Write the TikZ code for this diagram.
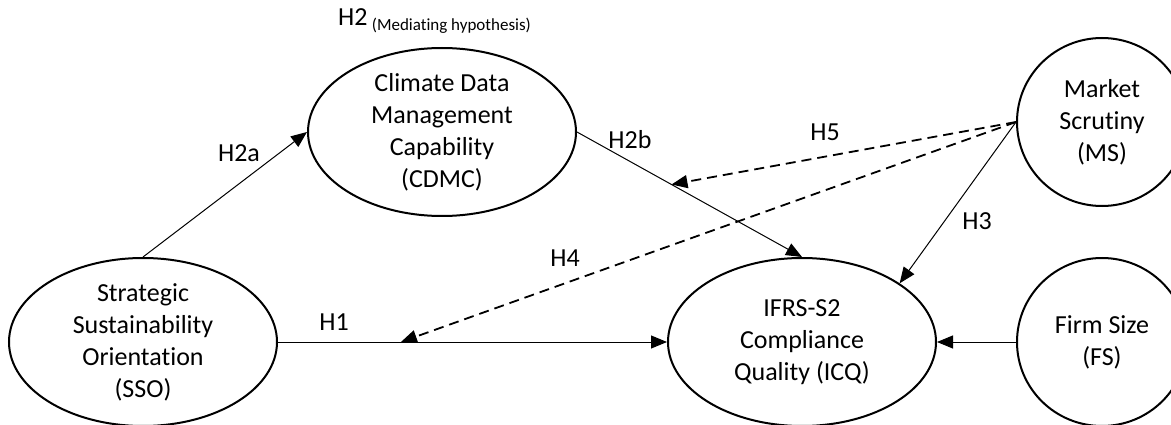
\documentclass[tikz,border=0pt]{standalone}
\usepackage{fontspec}
\setmainfont[Ligatures=NoCommon]{Carlito}
\usetikzlibrary{arrows.meta,positioning,calc,shapes.geometric}
\tikzset{
  construct/.style={ellipse, draw=black, line width=2pt, inner sep=0pt, minimum width=#1,
                    minimum height=168pt, align=center, font=\fontsize{26}{32}\selectfont},
  lbl/.style={font=\fontsize{26}{32}\selectfont, inner sep=0pt},
  arr/.style={-{Triangle[length=16pt,width=13pt]}, line width=1pt},
  modarr/.style={arr, line width=1.8pt, dash pattern=on 10pt off 6pt},
}

\begin{document}
\begin{tikzpicture}[x=1pt,y=-1pt]
\useasboundingbox (0,0) rectangle (1171,425);
% constructs
\node[construct=268pt] (sso) at (143,342) {Strategic\\Sustainability\\Orientation\\(SSO)};
\node[construct=268pt] (cdmc) at (442,132) {Climate Data\\Management\\Capability\\(CDMC)};
\node[construct=268pt] (icq) at (802,342) {IFRS-S2\\Compliance\\Quality (ICQ)};
\node[construct=170pt] (ms) at (1102,122) {Market\\Scrutiny\\(MS)};
\node[construct=170pt] (fs) at (1102,342) {Firm Size\\(FS)};
% paths
\draw[arr] (sso.north) -- (cdmc.west);
\draw[arr] (cdmc.east) -- coordinate[pos=0.42] (h5end) (icq.north);
\draw[arr] (sso.east) -- coordinate[pos=0.316] (h4end) (icq.west);
\draw[arr] (ms.west) -- (icq.31);
\draw[arr] (fs.west) -- (icq.east);
\draw[modarr] (ms.west) -- (h5end);
\draw[modarr] (ms.west) -- (h4end);
% hypotheses
\node[lbl, anchor=west] (h2) at (338,21) {H2\,\raisebox{-5pt}{\fontsize{17}{19}\selectfont(Mediating hypothesis)}};
\node[lbl] (h2a) at (239,153) {H2a};
\node[lbl] (h2b) at (630,140) {H2b};
\node[lbl] (h1) at (334,322) {H1};
\node[lbl] (h5) at (825,132) {H5};
\node[lbl] (h4) at (565,258) {H4};
\node[lbl] (h3) at (977,221) {H3};
\end{tikzpicture}
\end{document}
